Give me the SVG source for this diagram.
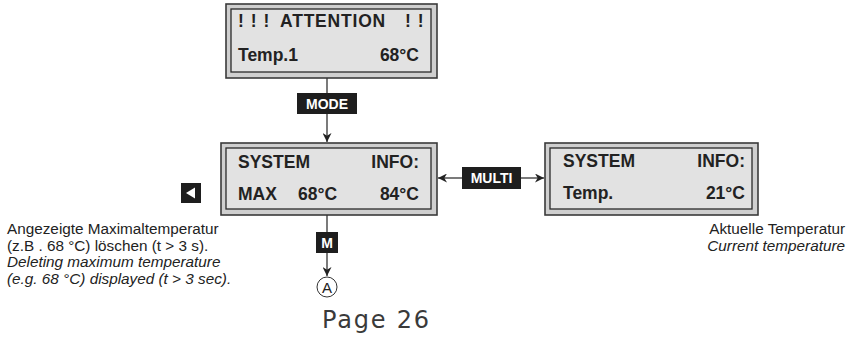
<svg xmlns="http://www.w3.org/2000/svg" width="853" height="339" viewBox="0 0 853 339">
<defs>
<style>
.frame{fill:#cfcfcf;stroke:#3a3a3a;stroke-width:1.6}
.panel{fill:#e2e2e2;stroke:#2a2a2a;stroke-width:1.3}
.lcd{font-family:"Liberation Sans",Arial,sans-serif;font-weight:bold;font-size:17.5px;fill:#222}
.key{fill:#1e1e1e}
.keyt{font-family:"Liberation Sans",Arial,sans-serif;font-weight:bold;font-size:14px;fill:#fff;text-anchor:middle}
.note{font-family:"Liberation Sans",Arial,sans-serif;font-size:15.3px;fill:#222}
.it{font-style:italic}
.conn{stroke:#333;stroke-width:1.3;fill:none}
</style>
<marker id="ah" viewBox="0 0 10 10" refX="10" refY="5" markerWidth="9" markerHeight="9" markerUnits="userSpaceOnUse" orient="auto-start-reverse">
<path d="M0,0 L10,5 L0,10 L3,5 Z" fill="#222"/>
</marker>
</defs>

<g id="box-attention">
<rect class="frame" x="226" y="4" width="211" height="74"/>
<rect class="panel" x="231" y="9" width="200" height="63"/>
<text class="lcd" x="238" y="27" letter-spacing="1">! ! !</text>
<text class="lcd" x="280" y="27" letter-spacing="0.8">ATTENTION</text>
<text class="lcd" x="405" y="27" letter-spacing="1">! !</text>
<text class="lcd" x="238" y="61">Temp.1</text>
<text class="lcd" x="419" y="61" text-anchor="end">68°C</text>
</g>

<g id="box-system-max">
<rect class="frame" x="221" y="143" width="216" height="72"/>
<rect class="panel" x="226" y="148" width="205" height="61"/>
<text class="lcd" x="238" y="168">SYSTEM</text>
<text class="lcd" x="419" y="168" text-anchor="end">INFO:</text>
<text class="lcd" x="238" y="200">MAX</text>
<text class="lcd" x="298" y="200">68°C</text>
<text class="lcd" x="419" y="200" text-anchor="end">84°C</text>
</g>

<g id="box-system-temp">
<rect class="frame" x="545" y="143" width="213" height="72"/>
<rect class="panel" x="550" y="148" width="202" height="61"/>
<text class="lcd" x="563" y="167">SYSTEM</text>
<text class="lcd" x="745" y="167" text-anchor="end">INFO:</text>
<text class="lcd" x="563" y="199">Temp.</text>
<text class="lcd" x="745" y="199" text-anchor="end">21°C</text>
</g>

<g id="connectors">
<line class="conn" x1="327" y1="78" x2="327" y2="93"/>
<line class="conn" x1="327" y1="114" x2="327" y2="142" marker-end="url(#ah)"/>
<line class="conn" x1="462" y1="178" x2="438" y2="178" marker-end="url(#ah)"/>
<line class="conn" x1="521" y1="178" x2="544" y2="178" marker-end="url(#ah)"/>
<line class="conn" x1="327" y1="215" x2="327" y2="232"/>
<line class="conn" x1="327" y1="253" x2="327" y2="276" marker-end="url(#ah)"/>
</g>

<g id="key-mode">
<rect class="key" x="297" y="93" width="60" height="21"/>
<text class="keyt" x="327" y="109">MODE</text>
</g>

<g id="key-multi">
<rect class="key" x="462" y="167" width="59" height="22"/>
<text class="keyt" x="491.5" y="183">MULTI</text>
</g>

<g id="key-m">
<rect class="key" x="316" y="232" width="22" height="21"/>
<text class="keyt" x="327" y="248">M</text>
</g>

<g id="key-left">
<rect class="key" x="181" y="183" width="20" height="20"/>
<path d="M186,193 L195,187.5 L195,198.5 Z" fill="#fff"/>
</g>

<g id="node-a">
<circle cx="327" cy="287" r="10" fill="#fff" stroke="#333" stroke-width="1"/>
<text x="327" y="292.5" font-family="'Liberation Sans',Arial,sans-serif" font-size="15" fill="#222" text-anchor="middle">A</text>
</g>

<g id="note-left">
<text class="note" x="7" y="234">Angezeigte Maximaltemperatur</text>
<text class="note" x="7" y="250.5">(z.B . 68 °C) löschen (t &gt; 3 s).</text>
<text class="note it" x="7" y="267">Deleting maximum temperature</text>
<text class="note it" x="7" y="283.5">(e.g. 68 °C) displayed (t &gt; 3 sec).</text>
</g>

<g id="note-right">
<text class="note" x="845" y="234" text-anchor="end">Aktuelle Temperatur</text>
<text class="note it" x="845" y="251" text-anchor="end">Current temperature</text>
</g>

<text x="322" y="328" font-family="'DejaVu Sans',sans-serif" font-size="24" letter-spacing="1.8" fill="#3a3a3a">Page 26</text>
</svg>
